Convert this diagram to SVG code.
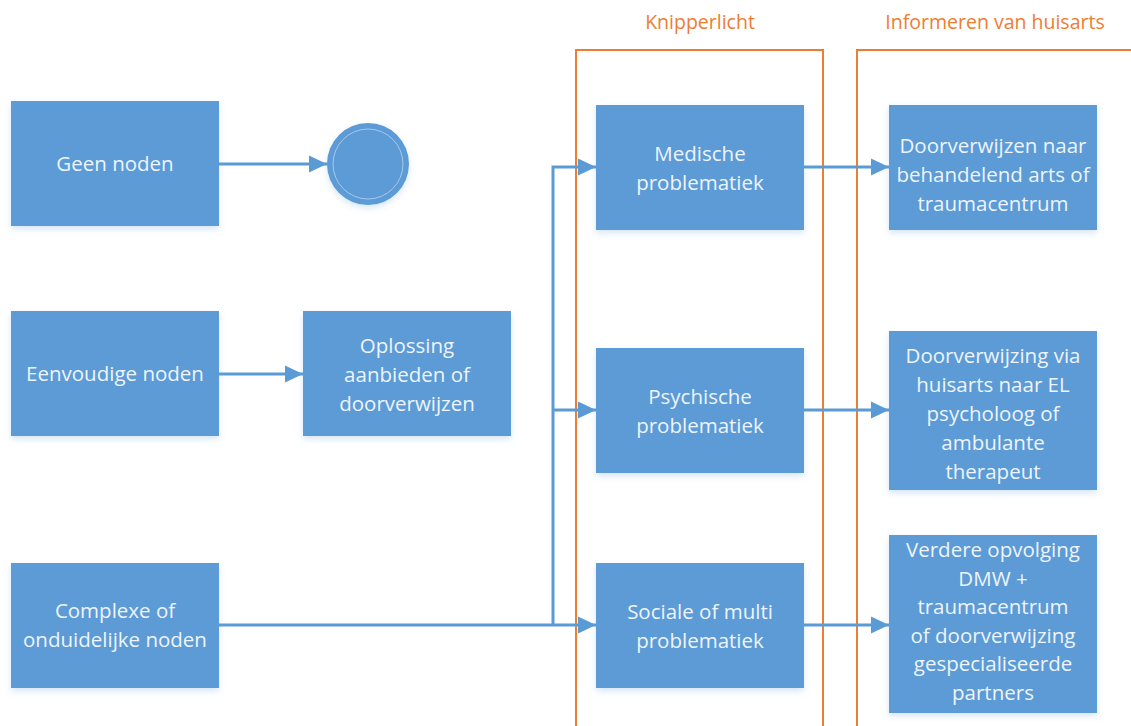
<svg xmlns="http://www.w3.org/2000/svg" width="1131" height="726" viewBox="0 0 1131 726">
<style>
.box{fill:#5B9BD5;filter:url(#sh)}
.t{font-family:"Open Sans","Liberation Sans",sans-serif;font-size:20.5px;fill:#EEF4FB;text-anchor:middle}
.h{font-family:"Open Sans","Liberation Sans",sans-serif;font-size:19.5px;fill:#ED7D31;text-anchor:middle}
.c{stroke:#5B9BD5;stroke-width:3;fill:none}
.grp{fill:none;stroke:#ED7D31;stroke-width:2}
</style>
<defs>
<filter id="sh" x="-10%" y="-10%" width="120%" height="130%">
<feDropShadow dx="0" dy="3" stdDeviation="3" flood-color="#5B9BD5" flood-opacity="0.25"/>
</filter>
<marker id="a" markerWidth="19" markerHeight="19" refX="18" refY="9.5" orient="auto" markerUnits="userSpaceOnUse">
<path d="M0,1 L18,9.5 L0,18 Z" fill="#5B9BD5"/>
</marker>
</defs>
<rect width="1131" height="726" fill="#fff"/>
<g id="knipperlicht">
<rect class="grp" x="576" y="50" width="247" height="690"/>
<text class="h" x="700" y="29">Knipperlicht</text>
</g>
<g id="informeren">
<rect class="grp" x="857" y="50" width="290" height="690"/>
<text class="h" x="995" y="29">Informeren van huisarts</text>
</g>
<g id="connectors">
<path class="c" d="M219,164 H327" marker-end="url(#a)"/>
<path class="c" d="M219,374 H303" marker-end="url(#a)"/>
<path class="c" d="M219,625 H596" marker-end="url(#a)"/>
<path class="c" d="M553,625 V167 H596" marker-end="url(#a)"/>
<path class="c" d="M553,410 H596" marker-end="url(#a)"/>
<path class="c" d="M804,167 H889" marker-end="url(#a)"/>
<path class="c" d="M804,410 H889" marker-end="url(#a)"/>
<path class="c" d="M804,625 H889" marker-end="url(#a)"/>
</g>
<g id="geen">
<rect class="box" x="11" y="101" width="208" height="125"/>
<text class="t" x="115" y="171">Geen noden</text>
</g>
<g id="eind">
<circle cx="368" cy="164" r="41" fill="#5B9BD5" filter="url(#sh)"/>
<circle cx="368" cy="164" r="35" fill="none" stroke="#A9C9EA" stroke-width="1"/>
</g>
<g id="eenvoudig">
<rect class="box" x="11" y="311" width="208" height="125"/>
<text class="t" x="115" y="381">Eenvoudige noden</text>
</g>
<g id="oplossing">
<rect class="box" x="303" y="311" width="208" height="125"/>
<text class="t" x="407" y="353">Oplossing</text>
<text class="t" x="407" y="382">aanbieden of</text>
<text class="t" x="407" y="411">doorverwijzen</text>
</g>
<g id="complexe">
<rect class="box" x="11" y="563" width="208" height="125"/>
<text class="t" x="115" y="618">Complexe of</text>
<text class="t" x="115" y="647">onduidelijke noden</text>
</g>
<g id="medische">
<rect class="box" x="596" y="105" width="208" height="125"/>
<text class="t" x="700" y="161">Medische</text>
<text class="t" x="700" y="190">problematiek</text>
</g>
<g id="psychische">
<rect class="box" x="596" y="348" width="208" height="125"/>
<text class="t" x="700" y="404">Psychische</text>
<text class="t" x="700" y="433">problematiek</text>
</g>
<g id="sociale">
<rect class="box" x="596" y="563" width="208" height="125"/>
<text class="t" x="700" y="619">Sociale of multi</text>
<text class="t" x="700" y="648">problematiek</text>
</g>
<g id="doorverwijzen">
<rect class="box" x="889" y="105" width="208" height="125"/>
<text class="t" x="993" y="153">Doorverwijzen naar</text>
<text class="t" x="993" y="182">behandelend arts of</text>
<text class="t" x="993" y="211">traumacentrum</text>
</g>
<g id="doorverwijzing">
<rect class="box" x="889" y="331" width="208" height="159"/>
<text class="t" x="993" y="363">Doorverwijzing via</text>
<text class="t" x="993" y="392">huisarts naar EL</text>
<text class="t" x="993" y="421">psycholoog of</text>
<text class="t" x="993" y="450">ambulante</text>
<text class="t" x="993" y="479">therapeut</text>
</g>
<g id="verdere">
<rect class="box" x="889" y="535" width="208" height="178"/>
<text class="t" x="993" y="557">Verdere opvolging</text>
<text class="t" x="993" y="586">DMW +</text>
<text class="t" x="993" y="614">traumacentrum</text>
<text class="t" x="993" y="643">of doorverwijzing</text>
<text class="t" x="993" y="671">gespecialiseerde</text>
<text class="t" x="993" y="700">partners</text>
</g>
</svg>
